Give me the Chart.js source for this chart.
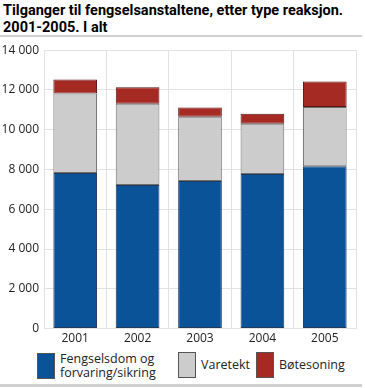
<!DOCTYPE html>
<html>
<head>
<meta charset="utf-8">
<script src="https://cdn.jsdelivr.net/npm/chart.js@4"></script>
<style>
  body { margin: 0; width: 365px; height: 388px; background: #fff; font-family: "Open Sans", sans-serif; overflow: hidden; position: relative; }
  #title { position: absolute; left: 3px; top: 2px; font-family: Roboto, sans-serif; font-size: 14.5px; font-weight: bold; line-height: 17px; color: #000; white-space: nowrap; }
  #rule1 { position: absolute; left: 0; top: 35px; width: 362px; height: 2px; background: #d0d0d0; }
  #wrap { position: absolute; left: 0; top: 38px; width: 365px; height: 311px; }
  #legend { position: absolute; left: 0; top: 350px; width: 365px; height: 32px; font-size: 12.5px; color: #222; }
  .item { position: absolute; top: 2px; display: flex; align-items: center; }
  .box { width: 18px; height: 26px; box-sizing: border-box; border: 1px solid #555; margin-right: 5px; }
  .lbl { line-height: 14px; }
  #rule2 { position: absolute; left: 0; top: 384px; width: 362px; height: 3px; background: #d0d0d0; }
</style>
</head>
<body>
<div id="title">Tilganger til fengselsanstaltene, etter type reaksjon.<br>2001-2005. I alt</div>
<div id="rule1"></div>
<div id="wrap"><canvas id="chart"></canvas></div>
<div id="legend"></div>
<div id="rule2"></div>
<script>
// Data
const years = ['2001', '2002', '2003', '2004', '2005'];
const fengselsdom = [7820, 7220, 7420, 7770, 8160];
const varetekt = [4000, 4090, 3230, 2530, 2980];
const botesoning = [710, 830, 470, 500, 1280];
const yTicks = [0, 2000, 4000, 6000, 8000, 10000, 12000, 14000];

const seriesNames = [['Fengselsdom og', 'forvaring/sikring'], ['Varetekt'], ['Bøtesoning']];
const fillColors = ['#0a5399', '#cccccc', '#a52a24'];
const edgeColors = ['#203a5c', '#707070', '#5a1512'];

const fmt = v => String(v).replace(/\B(?=(\d{3})+(?!\d))/g, ' ');

const datasets = [fengselsdom, varetekt, botesoning].map((d, i) => ({
  label: seriesNames[i].join(' '),
  data: d,
  backgroundColor: fillColors[i],
  borderColor: edgeColors[i],
  borderWidth: 1,
  borderSkipped: false,
  barPercentage: 0.7,
  categoryPercentage: 1
}));

const chart = new Chart(document.getElementById('chart'), {
  type: 'bar',
  data: { labels: years, datasets: datasets },
  options: {
    responsive: true,
    maintainAspectRatio: false,
    animation: false,
    layout: { padding: { top: 9, right: 9, left: 0, bottom: 0 } },
    plugins: { legend: { display: false }, tooltip: { enabled: false } },
    scales: {
      x: {
        stacked: true,
        grid: { color: '#e2e2e2', lineWidth: 1, offset: true, drawTicks: false },
        border: { display: false },
        ticks: { color: '#222', font: { family: 'Open Sans', size: 12 }, padding: 3 }
      },
      y: {
        stacked: true,
        min: 0,
        max: 14000,
        afterBuildTicks: s => { s.ticks = yTicks.map(v => ({ value: v })); },
        afterFit: s => { s.width = 44; },
        grid: { color: '#e2e2e2', lineWidth: 1, drawTicks: false },
        border: { display: false },
        ticks: { color: '#222', font: { family: 'Open Sans', size: 12 }, padding: 5, callback: v => fmt(v) }
      }
    }
  }
});

// legend
const legend = document.getElementById('legend');
const lefts = [37, 178, 256];
seriesNames.forEach((name, i) => {
  const item = document.createElement('div');
  item.className = 'item';
  item.style.left = lefts[i] + 'px';
  item.innerHTML = '<div class="box" style="background:' + fillColors[i] + '"></div><div class="lbl">' + name.join('<br>') + '</div>';
  legend.appendChild(item);
});
</script>
</body>
</html>
